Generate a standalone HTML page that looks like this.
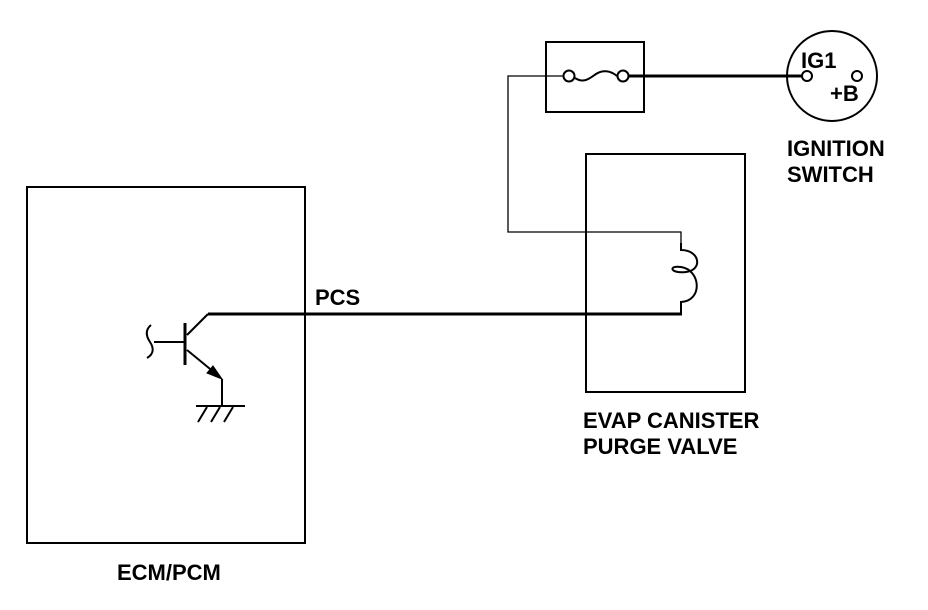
<!DOCTYPE html>
<html><head><style>body{margin:0;background:#fff}svg{display:block}text{font-family:"Liberation Sans",sans-serif;font-weight:bold;font-size:22px;fill:#000}</style></head><body>
<svg width="928" height="610" viewBox="0 0 928 610" fill="none" stroke="#000">
<rect x="27" y="187" width="278" height="356" stroke-width="2"/>
<rect x="586" y="154" width="159" height="238" stroke-width="2"/>
<rect x="546" y="42" width="98" height="70" stroke-width="2"/>
<circle cx="832" cy="76" r="45" stroke-width="2"/>
<circle cx="569" cy="76" r="5.5" stroke-width="2"/>
<circle cx="623" cy="76" r="5.5" stroke-width="2"/>
<path d="M575 78 C584 84 590 78 596 74 C602 70 610 70 617 76" stroke-width="2"/>
<line x1="629" y1="76" x2="802" y2="76" stroke-width="3"/>
<circle cx="807" cy="76" r="5" stroke-width="2"/>
<circle cx="857" cy="76" r="5" stroke-width="2"/>
<path d="M563 76 H508 V232 H681 V244" stroke-width="1.3"/>
<path d="M681 243 V250 C700 250 703 270 686 272 C670 274 668 265 681 267 C701 270 703 301 681 302 V314" stroke-width="2"/>
<line x1="208" y1="314" x2="682" y2="314" stroke-width="3"/>
<line x1="208" y1="314" x2="187" y2="335" stroke-width="2"/>
<line x1="185" y1="323" x2="185" y2="365" stroke-width="3"/>
<line x1="154" y1="342" x2="185" y2="342" stroke-width="2"/>
<path d="M151 325 C145 330 146 336 150 342 C154 348 154 354 147 358" stroke-width="2"/>
<line x1="187" y1="350" x2="215" y2="373" stroke-width="2"/>
<polygon points="222,379 207,373 213,366" fill="#000" stroke-width="1"/>
<line x1="222" y1="379" x2="222" y2="406" stroke-width="2"/>
<line x1="196" y1="406" x2="245" y2="406" stroke-width="2"/>
<path d="M207 407 L198 422 M220 407 L211 422 M233 407 L224 422" stroke-width="2"/>
<g stroke="none">
<text x="315" y="305" font-size="21">PCS</text>
<text x="801" y="68" font-size="20">IG1</text>
<text x="830" y="101" font-size="20">+B</text>
<text x="787" y="156">IGNITION</text>
<text x="787" y="182">SWITCH</text>
<text x="583" y="428">EVAP CANISTER</text>
<text x="583" y="454">PURGE VALVE</text>
<text x="117" y="580">ECM/PCM</text>
</g>
</svg>
</body></html>
